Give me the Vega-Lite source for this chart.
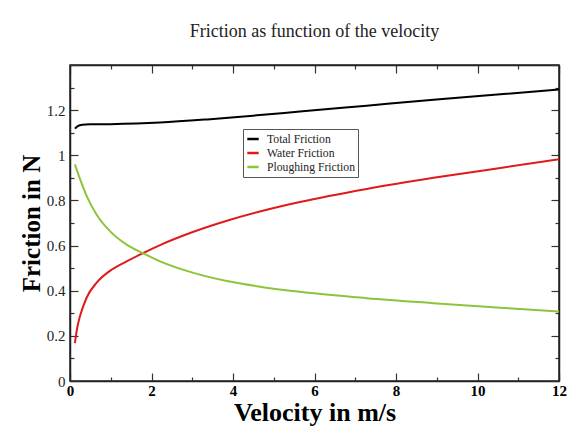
{
  "$schema": "https://vega.github.io/schema/vega-lite/v6.json",
  "width": 489,
  "height": 316,
  "autosize": "none",
  "padding": {"left": 70, "top": 65, "right": 9, "bottom": 45},
  "background": "white",
  "title": {
    "text": "Friction as function of the velocity",
    "font": "Liberation Serif",
    "fontSize": 18,
    "fontWeight": "normal",
    "color": "#222222",
    "anchor": "middle",
    "offset": 17
  },
  "data": {
    "values": [
      {"series": "Total Friction", "v": 0.12, "F": 1.118},
      {"series": "Total Friction", "v": 0.2, "F": 1.13},
      {"series": "Total Friction", "v": 0.3, "F": 1.135},
      {"series": "Total Friction", "v": 0.5, "F": 1.137},
      {"series": "Total Friction", "v": 0.98, "F": 1.138},
      {"series": "Total Friction", "v": 2.21, "F": 1.145},
      {"series": "Total Friction", "v": 3.44, "F": 1.16},
      {"series": "Total Friction", "v": 4.66, "F": 1.178},
      {"series": "Total Friction", "v": 5.64, "F": 1.194},
      {"series": "Total Friction", "v": 7.28, "F": 1.22},
      {"series": "Total Friction", "v": 8.92, "F": 1.246},
      {"series": "Total Friction", "v": 10.56, "F": 1.27},
      {"series": "Total Friction", "v": 12, "F": 1.292},
      {"series": "Water Friction", "v": 0.12, "F": 0.168},
      {"series": "Water Friction", "v": 0.18, "F": 0.238},
      {"series": "Water Friction", "v": 0.25, "F": 0.29},
      {"series": "Water Friction", "v": 0.41, "F": 0.37},
      {"series": "Water Friction", "v": 0.65, "F": 0.435},
      {"series": "Water Friction", "v": 0.98, "F": 0.488},
      {"series": "Water Friction", "v": 1.39, "F": 0.53},
      {"series": "Water Friction", "v": 1.8, "F": 0.567},
      {"series": "Water Friction", "v": 2.21, "F": 0.602},
      {"series": "Water Friction", "v": 3.03, "F": 0.661},
      {"series": "Water Friction", "v": 3.85, "F": 0.71},
      {"series": "Water Friction", "v": 4.66, "F": 0.751},
      {"series": "Water Friction", "v": 5.64, "F": 0.793},
      {"series": "Water Friction", "v": 7.28, "F": 0.851},
      {"series": "Water Friction", "v": 8.92, "F": 0.9},
      {"series": "Water Friction", "v": 10.56, "F": 0.944},
      {"series": "Water Friction", "v": 12, "F": 0.982},
      {"series": "Ploughing Friction", "v": 0.12, "F": 0.96},
      {"series": "Ploughing Friction", "v": 0.25, "F": 0.893},
      {"series": "Ploughing Friction", "v": 0.41, "F": 0.819},
      {"series": "Ploughing Friction", "v": 0.65, "F": 0.738},
      {"series": "Ploughing Friction", "v": 0.98, "F": 0.664},
      {"series": "Ploughing Friction", "v": 1.39, "F": 0.604},
      {"series": "Ploughing Friction", "v": 1.8, "F": 0.565},
      {"series": "Ploughing Friction", "v": 2.21, "F": 0.53},
      {"series": "Ploughing Friction", "v": 3.03, "F": 0.479},
      {"series": "Ploughing Friction", "v": 3.85, "F": 0.443},
      {"series": "Ploughing Friction", "v": 4.66, "F": 0.418},
      {"series": "Ploughing Friction", "v": 5.64, "F": 0.395},
      {"series": "Ploughing Friction", "v": 7.28, "F": 0.367},
      {"series": "Ploughing Friction", "v": 8.92, "F": 0.345},
      {"series": "Ploughing Friction", "v": 10.56, "F": 0.325},
      {"series": "Ploughing Friction", "v": 12, "F": 0.308}
    ]
  },
  "layer": [
    {
      "mark": {"type": "line", "strokeWidth": 2, "interpolate": "monotone", "clip": true},
      "encoding": {
        "x": {
          "field": "v",
          "type": "quantitative",
          "scale": {"domain": [0, 12], "nice": false, "zero": false},
          "axis": {
            "orient": "bottom",
            "values": [0, 1, 2, 3, 4, 5, 6, 7, 8, 9, 10, 11, 12],
            "tickSize": {"condition": {"test": "datum.value % 2 === 0", "value": -8}, "value": -4},
            "labelExpr": "datum.value % 2 === 0 ? format(datum.value, '~g') : ''",
            "labelFont": "Liberation Serif",
            "labelFontSize": 15,
            "labelFontWeight": "bold",
            "labelColor": "black",
            "labelPadding": 10,
            "labelFlush": false,
            "labelOverlap": false,
            "title": "Velocity in m/s",
            "titleFont": "Liberation Serif",
            "titleFontSize": 26,
            "titleFontWeight": "bold",
            "titleColor": "black",
            "titlePadding": -3,
            "domainColor": "#222222",
            "domainWidth": 1.5,
            "tickColor": "#333333",
            "tickWidth": 1.2,
            "grid": false
          }
        },
        "y": {
          "field": "F",
          "type": "quantitative",
          "scale": {"domain": [0, 1.4], "nice": false},
          "axis": {
            "orient": "left",
            "values": [0, 0.1, 0.2, 0.3, 0.4, 0.5, 0.6, 0.7, 0.8, 0.9, 1, 1.1, 1.2, 1.3, 1.4],
            "tickSize": {"condition": {"test": "round(datum.value * 10) % 2 === 0", "value": -8}, "value": -4},
            "labelExpr": "round(datum.value * 10) % 2 === 0 && datum.value < 1.35 ? format(datum.value, '~g') : ''",
            "labelFont": "Liberation Serif",
            "labelFontSize": 15,
            "labelColor": "#222222",
            "labelPadding": 13,
            "labelFlush": false,
            "labelOverlap": false,
            "title": "Friction in N",
            "titleFont": "Liberation Serif",
            "titleFontSize": 25,
            "titleFontWeight": "bold",
            "titleColor": "black",
            "titlePadding": 2,
            "domainColor": "#222222",
            "domainWidth": 1.5,
            "tickColor": "#333333",
            "tickWidth": 1.2,
            "grid": false
          }
        },
        "color": {
          "field": "series",
          "type": "nominal",
          "scale": {
            "domain": ["Total Friction", "Water Friction", "Ploughing Friction"],
            "range": ["#000000", "#e01a1a", "#8cc43c"]
          },
          "legend": {
            "orient": "none",
            "legendX": 173,
            "legendY": 64,
            "title": null,
            "symbolType": "stroke",
            "symbolStrokeWidth": 2.5,
            "symbolSize": 130,
            "labelFont": "Liberation Serif",
            "labelFontSize": 11.7,
            "labelColor": "#222222",
            "labelOffset": 7,
            "rowPadding": 0,
            "padding": 3,
            "strokeColor": "#555555",
            "fillColor": "white",
            "cornerRadius": 0
          }
        }
      }
    },
    {
      "mark": {"type": "line", "opacity": 0},
      "encoding": {
        "detail": {"field": "series"},
        "x": {
          "field": "v",
          "type": "quantitative",
          "axis": {
            "orient": "top",
            "values": [0, 1, 2, 3, 4, 5, 6, 7, 8, 9, 10, 11, 12],
            "tickSize": {"condition": {"test": "datum.value % 2 === 0", "value": -8}, "value": -4},
            "labels": false,
            "title": null,
            "domainColor": "#222222",
            "domainWidth": 1.5,
            "tickColor": "#333333",
            "tickWidth": 1.2,
            "grid": false
          }
        },
        "y": {
          "field": "F",
          "type": "quantitative",
          "axis": {
            "orient": "right",
            "values": [0, 0.1, 0.2, 0.3, 0.4, 0.5, 0.6, 0.7, 0.8, 0.9, 1, 1.1, 1.2, 1.3, 1.4],
            "tickSize": {"condition": {"test": "round(datum.value * 10) % 2 === 0", "value": -8}, "value": -4},
            "labels": false,
            "title": null,
            "domainColor": "#222222",
            "domainWidth": 1.5,
            "tickColor": "#333333",
            "tickWidth": 1.2,
            "grid": false
          }
        }
      }
    }
  ],
  "resolve": {"axis": {"x": "independent", "y": "independent"}},
  "config": {"view": {"stroke": "#222222", "strokeWidth": 1.5}}
}
